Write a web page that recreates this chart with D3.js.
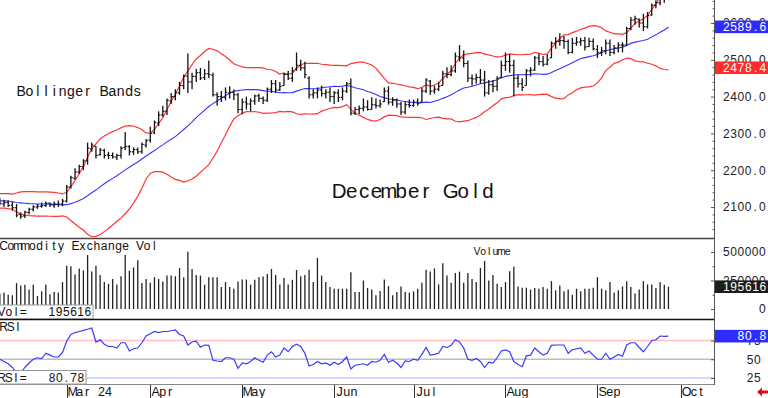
<!DOCTYPE html>
<html>
<head>
<meta charset="utf-8">
<script src="https://cdn.jsdelivr.net/npm/d3@7"></script>
<style>
  html, body { margin: 0; padding: 0; background: #fff; }
  svg { display: block; }
  text { font-family: "Liberation Sans", Arial, sans-serif; }
</style>
</head>
<body>
<svg id="chart"></svg>
<script>
// Configuration
const width = 768;
const height = 398;
const plotRight = 714;

// Month ticks (index of first trading day in each month)
const monthLabels = ["Mar 24", "Apr", "May", "Jun", "Jul", "Aug", "Sep", "Oct"];
const monthStart = [16, 36, 58, 80, 99, 121, 143, 163];

// Closes before the first visible bar (needed for the 20-day bands)
const priorCloses = [2110, 2115, 2132, 2120, 2098, 2108, 2112, 2108, 2114, 2106,
  2110, 2112, 2120, 2122, 2132, 2140, 2125, 2115, 2122];

// Daily bars, Feb 7 .. Sep 26
const opens = [
  2118, 2108, 2113, 2105, 2098, 2080, 2076, 2085, 2094, 2100,
  2102, 2104, 2110, 2105, 2108, 2108, 2116, 2154, 2178, 2195,
  2210, 2226, 2258, 2265, 2242, 2254, 2242, 2240, 2236, 2240,
  2262, 2264, 2250, 2256, 2250, 2268, 2282, 2302, 2328, 2350,
  2360, 2388, 2400, 2410, 2430, 2456, 2440, 2455, 2465, 2452,
  2462, 2458, 2405, 2400, 2398, 2410, 2412, 2405, 2365, 2385,
  2380, 2388, 2402, 2395, 2390, 2420, 2435, 2418, 2430, 2460,
  2450, 2475, 2485, 2478, 2450, 2405, 2410, 2418, 2408, 2412,
  2400, 2410, 2398, 2415, 2435, 2355, 2365, 2368, 2372, 2365,
  2378, 2375, 2386, 2415, 2385, 2390, 2380, 2358, 2378, 2376,
  2385, 2385, 2415, 2442, 2415, 2420, 2430, 2462, 2460, 2470,
  2508, 2505, 2490, 2450, 2448, 2452, 2445, 2410, 2432, 2428,
  2452, 2485, 2495, 2485, 2450, 2435, 2430, 2470, 2472, 2505,
  2495, 2488, 2505, 2545, 2550, 2552, 2550, 2520, 2545, 2548,
  2552, 2536, 2550, 2528, 2520, 2525, 2545, 2520, 2532, 2540,
  2540, 2585, 2608, 2610, 2600, 2590, 2622, 2648, 2655, 2685,
  2682
];
const highs = [
  2125, 2120, 2118, 2115, 2108, 2085, 2090, 2098, 2105, 2108,
  2112, 2115, 2112, 2115, 2118, 2122, 2160, 2185, 2205, 2215,
  2230, 2275, 2275, 2265, 2260, 2258, 2250, 2248, 2245, 2265,
  2304, 2268, 2262, 2262, 2275, 2285, 2318, 2335, 2360, 2375,
  2395, 2410, 2420, 2440, 2460, 2517, 2465, 2475, 2478, 2475,
  2498, 2465, 2412, 2415, 2425, 2428, 2420, 2410, 2395, 2400,
  2395, 2405, 2408, 2400, 2425, 2445, 2445, 2440, 2465, 2470,
  2480, 2520, 2500, 2495, 2455, 2420, 2425, 2430, 2420, 2425,
  2415, 2420, 2425, 2440, 2449, 2372, 2376, 2395, 2390, 2398,
  2395, 2392, 2425, 2428, 2398, 2395, 2385, 2385, 2392, 2392,
  2395, 2425, 2450, 2445, 2430, 2440, 2470, 2480, 2485, 2520,
  2540, 2525, 2498, 2460, 2462, 2475, 2470, 2445, 2445, 2455,
  2498, 2520, 2515, 2500, 2460, 2450, 2475, 2480, 2510, 2517,
  2510, 2515, 2550, 2562, 2572, 2565, 2555, 2560, 2562, 2560,
  2562, 2560, 2558, 2540, 2535, 2555, 2555, 2540, 2548, 2548,
  2590, 2616, 2620, 2612, 2625, 2630, 2653, 2662, 2688, 2695,
  2708
];
const lows = [
  2105, 2100, 2100, 2090, 2072, 2068, 2070, 2080, 2088, 2095,
  2098, 2100, 2100, 2098, 2100, 2102, 2112, 2150, 2175, 2190,
  2200, 2215, 2250, 2232, 2240, 2232, 2230, 2232, 2228, 2232,
  2255, 2240, 2242, 2245, 2245, 2262, 2275, 2298, 2320, 2345,
  2350, 2380, 2390, 2405, 2420, 2410, 2420, 2440, 2445, 2445,
  2450, 2400, 2375, 2385, 2390, 2395, 2390, 2355, 2352, 2365,
  2360, 2378, 2385, 2380, 2385, 2410, 2410, 2415, 2430, 2445,
  2440, 2470, 2470, 2450, 2395, 2395, 2395, 2400, 2395, 2385,
  2380, 2385, 2390, 2410, 2349, 2350, 2352, 2360, 2362, 2365,
  2368, 2370, 2385, 2378, 2375, 2370, 2350, 2352, 2370, 2372,
  2375, 2385, 2410, 2405, 2408, 2415, 2430, 2450, 2455, 2465,
  2495, 2480, 2440, 2430, 2435, 2435, 2400, 2405, 2412, 2415,
  2450, 2470, 2465, 2400, 2425, 2415, 2430, 2455, 2470, 2485,
  2482, 2485, 2505, 2530, 2538, 2530, 2515, 2518, 2538, 2538,
  2525, 2535, 2525, 2505, 2510, 2515, 2510, 2515, 2520, 2520,
  2538, 2580, 2595, 2588, 2578, 2585, 2620, 2640, 2648, 2655,
  2662
];
const closes = [
  2110, 2112, 2104, 2098, 2078, 2075, 2086, 2094, 2100, 2102,
  2104, 2110, 2106, 2108, 2108, 2116, 2154, 2180, 2195, 2210,
  2225, 2260, 2268, 2240, 2255, 2240, 2240, 2236, 2240, 2260,
  2265, 2250, 2256, 2250, 2270, 2280, 2300, 2330, 2350, 2360,
  2390, 2400, 2410, 2430, 2455, 2440, 2455, 2465, 2450, 2462,
  2460, 2405, 2400, 2398, 2412, 2412, 2405, 2365, 2385, 2380,
  2388, 2402, 2395, 2390, 2420, 2435, 2418, 2428, 2460, 2450,
  2470, 2485, 2478, 2460, 2405, 2410, 2418, 2408, 2412, 2400,
  2410, 2398, 2415, 2435, 2355, 2365, 2368, 2372, 2365, 2378,
  2375, 2380, 2415, 2385, 2390, 2380, 2358, 2378, 2376, 2385,
  2382, 2415, 2445, 2415, 2420, 2428, 2462, 2460, 2470, 2510,
  2505, 2490, 2450, 2448, 2452, 2445, 2410, 2432, 2428, 2450,
  2485, 2495, 2485, 2450, 2435, 2425, 2470, 2472, 2505, 2495,
  2488, 2500, 2545, 2550, 2552, 2550, 2520, 2545, 2548, 2552,
  2535, 2550, 2530, 2520, 2525, 2545, 2520, 2532, 2540, 2540,
  2585, 2608, 2612, 2600, 2590, 2620, 2648, 2655, 2685, 2680,
  2700
];
const volumes = [
  135000, 144000, 126000, 121000, 227000, 207000, 213000, 172000, 213000, 115000,
  155000, 216000, 129000, 149000, 144000, 236000, 379000, 374000, 302000, 356000,
  339000, 474000, 328000, 379000, 299000, 236000, 221000, 264000, 216000, 287000,
  474000, 336000, 365000, 428000, 227000, 264000, 230000, 279000, 264000, 241000,
  293000, 293000, 287000, 359000, 279000, 503000, 351000, 299000, 293000, 213000,
  279000, 279000, 279000, 193000, 236000, 193000, 178000, 241000, 259000, 259000,
  213000, 256000, 279000, 285000, 308000, 351000, 299000, 216000, 273000, 216000,
  256000, 342000, 287000, 299000, 345000, 236000, 448000, 293000, 236000, 193000,
  178000, 178000, 178000, 178000, 322000, 149000, 149000, 250000, 184000, 170000,
  121000, 158000, 259000, 201000, 121000, 149000, 198000, 149000, 144000, 155000,
  178000, 230000, 345000, 328000, 356000, 216000, 402000, 293000, 230000, 316000,
  328000, 230000, 316000, 264000, 236000, 359000, 422000, 250000, 299000, 221000,
  193000, 236000, 331000, 371000, 198000, 187000, 187000, 170000, 184000, 178000,
  193000, 178000, 244000, 164000, 207000, 155000, 172000, 126000, 178000, 155000,
  178000, 178000, 187000, 279000, 178000, 164000, 236000, 144000, 164000, 198000,
  244000, 193000, 135000, 172000, 244000, 216000, 216000, 184000, 236000, 213000,
  195616
];
const rsiValues = [
  50, 47, 44, 39, 32, 32, 39, 45, 50, 52,
  51, 58, 55.5, 53, 53, 59, 74, 83, 85.6, 87,
  88.4, 90, 91.7, 73, 76, 70, 67, 67, 65, 72,
  72, 61, 64, 65, 72, 81, 84, 87, 85.6, 87,
  87, 88, 89, 83, 81, 69, 73, 74, 66, 69,
  68.5, 48.6, 47.7, 47, 52, 52, 50, 38, 45, 44,
  47, 52, 48.6, 46, 55.5, 60, 53, 55.5, 65, 60,
  67, 70, 67, 58, 41, 43, 47, 44, 45, 42,
  46, 43, 47, 53, 37, 42, 43, 44, 42, 47,
  46, 48.6, 56.5, 46, 48.6, 45, 39, 47.7, 47, 50,
  48.6, 56.5, 65.7, 55.5, 56.5, 58, 67, 65.7, 68.5, 76,
  73, 65, 50, 48.6, 51, 47, 39, 46, 45, 52,
  61, 62.5, 60, 47, 43, 40, 54.6, 55.5, 65, 60,
  55.5, 58, 68.5, 69, 69, 69, 58, 62.5, 64, 65,
  58, 61, 55.5, 50, 50, 58, 50, 53, 56.5, 54,
  69, 72, 72, 65.7, 60, 67, 75, 76, 81, 80.5,
  80.78
];

// Last values shown in the right-hand boxes
const lastMid = 2589.6, lastLower = 2478.4, lastVol = 195616, lastRsi = 80.78;
const priceTicks = [2100, 2200, 2300, 2400, 2500, 2600];
const volTicks = [0, 250000, 500000];
const rsiTicks = [25, 50, 75];

// Bollinger bands (20 day, 2 sd)
const allCloses = priorCloses.concat(closes);
const bands = closes.map((c, i) => {
    const win = allCloses.slice(i, i + 20);
    const m = d3.mean(win);
    const sd = Math.sqrt(d3.mean(win, v => (v - m) * (v - m)));
    return { mid: m, upper: m + 2 * sd, lower: m - 2 * sd };
});

const svg = d3.select("#chart")
    .attr("width", width)
    .attr("height", height)
    .attr("viewBox", `0 0 ${width} ${height}`);

svg.append("rect").attr("width", width).attr("height", height).attr("fill", "#fff");

// Fixed-cell text: every character centred in its own cell, like the terminal font of the original
function monoText(x0, y, str, cell, size, align, color) {
    const n = str.length;
    const start = align === "end" ? x0 - n * cell : x0;
    const xs = d3.range(n).map(k => (start + (k + 0.5) * cell).toFixed(2));
    return svg.append("text")
        .attr("x", xs.join(" ")).attr("y", y)
        .attr("text-anchor", "middle")
        .style("font-size", size + "px")
        .attr("fill", color || "#111")
        .text(str);
}

// Scales
const x = d3.scaleLinear().domain([16, 163]).range([66.7, 681]);
const yPrice = d3.scaleLinear().domain([2100, 2600]).range([207, 23]);
const yVol = d3.scaleLinear().domain([0, 500000]).range([309, 252]);
const yRsi = d3.scaleLinear().domain([25, 75]).range([378, 340.5]);

const defs = svg.append("defs");
function clip(id, y0, y1) {
    defs.append("clipPath").attr("id", id)
        .append("rect").attr("x", 0).attr("y", y0).attr("width", plotRight).attr("height", y1 - y0);
}
clip("clipPrice", 0, 238);
clip("clipVol", 239, 319);
clip("clipRsi", 320, 384);

// ---- Price panel
const gPrice = svg.append("g").attr("clip-path", "url(#clipPrice)");

const bandLine = key => d3.line().x((d, i) => x(i)).y(d => yPrice(d[key]));
gPrice.append("path").datum(bands).attr("d", bandLine("upper"))
    .attr("fill", "none").attr("stroke", "#ff3535").attr("stroke-width", 1.2);
gPrice.append("path").datum(bands).attr("d", bandLine("lower"))
    .attr("fill", "none").attr("stroke", "#ff3535").attr("stroke-width", 1.2);
gPrice.append("path").datum(bands).attr("d", bandLine("mid"))
    .attr("fill", "none").attr("stroke", "#3535ff").attr("stroke-width", 1.1);

// OHLC bars
const bars = gPrice.selectAll(".bar").data(closes).enter().append("g").attr("class", "bar")
    .attr("stroke", "#111");
bars.append("line")
    .attr("x1", (d, i) => x(i)).attr("x2", (d, i) => x(i))
    .attr("y1", (d, i) => yPrice(highs[i])).attr("y2", (d, i) => yPrice(lows[i]))
    .attr("stroke-width", 1.3);
bars.append("line")
    .attr("x1", (d, i) => x(i) - 1.8).attr("x2", (d, i) => x(i))
    .attr("y1", (d, i) => yPrice(opens[i])).attr("y2", (d, i) => yPrice(opens[i]))
    .attr("stroke-width", 1.1);
bars.append("line")
    .attr("x1", (d, i) => x(i)).attr("x2", (d, i) => x(i) + 1.8)
    .attr("y1", d => yPrice(d)).attr("y2", d => yPrice(d))
    .attr("stroke-width", 1.1);

monoText(17, 96, "Bollinger Bands", 8.3, 14);
monoText(333, 198, "December Gold", 12.4, 20.5);

// ---- Volume panel
const gVol = svg.append("g").attr("clip-path", "url(#clipVol)");
gVol.selectAll(".vbar").data(volumes).enter().append("line")
    .attr("x1", (d, i) => x(i)).attr("x2", (d, i) => x(i))
    .attr("y1", yVol(0)).attr("y2", d => yVol(d))
    .attr("stroke", "#222").attr("stroke-width", 1.3);

monoText(0, 250, "Commodity Exchange Vol", 7.18, 12);
monoText(474, 254.5, "Volume", 6.1, 10.5);

// ---- RSI panel
const gRsi = svg.append("g").attr("clip-path", "url(#clipRsi)");
const refColors = { 25: "#c8c8ff", 50: "#bdbdbd", 75: "#ffc0c0" };
rsiTicks.forEach(t => {
    gRsi.append("line").attr("x1", 0).attr("x2", plotRight)
        .attr("y1", yRsi(t)).attr("y2", yRsi(t))
        .attr("stroke", refColors[t]).attr("stroke-width", 1.3);
});
gRsi.append("path").datum(rsiValues)
    .attr("d", d3.line().x((d, i) => x(i)).y(d => yRsi(d)))
    .attr("fill", "none").attr("stroke", "#3a3aff").attr("stroke-width", 1.2);
monoText(0, 331, "RSI", 7.18, 12);

// ---- Frame lines
svg.append("line").attr("x1", 0).attr("x2", plotRight).attr("y1", 238.5).attr("y2", 238.5)
    .attr("stroke", "#444").attr("stroke-width", 1.6);
svg.append("line").attr("x1", 0).attr("x2", plotRight).attr("y1", 319.5).attr("y2", 319.5)
    .attr("stroke", "#111").attr("stroke-width", 1.5);
svg.append("line").attr("x1", 0).attr("x2", plotRight).attr("y1", 384.5).attr("y2", 384.5)
    .attr("stroke", "#888").attr("stroke-width", 1);
svg.append("line").attr("x1", plotRight + 0.5).attr("x2", plotRight + 0.5).attr("y1", 0).attr("y2", 385)
    .attr("stroke", "#555").attr("stroke-width", 1);

// ---- Right axes: tick marks via d3 axes, labels in fixed cells
function tickAxis(scale, values, size) {
    const g = svg.append("g").attr("transform", `translate(${plotRight},0)`)
        .call(d3.axisLeft(scale).tickValues(values).tickSize(size).tickFormat(""));
    g.select(".domain").remove();
    g.selectAll("line").attr("stroke", "#555");
}
tickAxis(yPrice, priceTicks, 3);
tickAxis(yPrice, d3.range(2040, 2661, 20).filter(v => v % 100 !== 0), 1.5);
tickAxis(yVol, volTicks, 3);
tickAxis(yVol, [125000, 375000], 1.5);
tickAxis(yRsi, rsiTicks, 3);

const fmtPrice = d3.format(".1f");
priceTicks.forEach(v => monoText(766, yPrice(v) + 4.3, fmtPrice(v), 7.2, 12, "end", "#222"));
volTicks.forEach(v => monoText(766, yVol(v) + 4.3, String(v), 7.2, 12, "end", "#222"));
rsiTicks.forEach(v => monoText(761, yRsi(v) + 4.3, String(v), 7.2, 12, "end", "#222"));

// value boxes
function valueBox(yPos, label, fill) {
    svg.append("rect").attr("x", plotRight + 1).attr("y", yPos - 6.3)
        .attr("width", width - plotRight - 1).attr("height", 12.6).attr("fill", fill);
    monoText(766.5, yPos + 4.3, label, 7.3, 12, "end", "#fff");
}
valueBox(yPrice(lastMid), lastMid.toFixed(1), "#2c2cff");
valueBox(yPrice(lastLower), lastLower.toFixed(1), "#ff2c2c");
valueBox(yVol(lastVol), String(lastVol), "#1c1c1c");
valueBox(yRsi(lastRsi), lastRsi.toFixed(1), "#2c2cff");

// left info boxes
function infoBox(y0, w, name, val) {
    svg.append("rect").attr("x", -1).attr("y", y0).attr("width", w).attr("height", 13.5)
        .attr("fill", "#fff").attr("stroke", "#999").attr("stroke-width", 1);
    monoText(-2, y0 + 11, name, 7.2, 12);
    monoText(w - 2.5, y0 + 11, val, 7.2, 12, "end");
}
infoBox(305, 94, "Vol=", String(lastVol));
infoBox(370.5, 87, "RSI=", lastRsi.toFixed(2));

// ---- Month axis
monthStart.forEach((idx, k) => {
    const xm = Math.round(x(idx)) + 0.5;
    svg.append("line").attr("x1", xm).attr("x2", xm).attr("y1", 385).attr("y2", 398)
        .attr("stroke", "#333").attr("stroke-width", 1);
    monoText(xm + 1.5, 395.5, monthLabels[k], 7.2, 12.5);
});

// red arrow, bottom right
svg.append("path")
    .attr("d", "M757,392 L762,387.5 L762,390.5 L768,390.5 L768,393.5 L762,393.5 L762,396.5 Z")
    .attr("fill", "#e01010");
</script>
</body>
</html>
